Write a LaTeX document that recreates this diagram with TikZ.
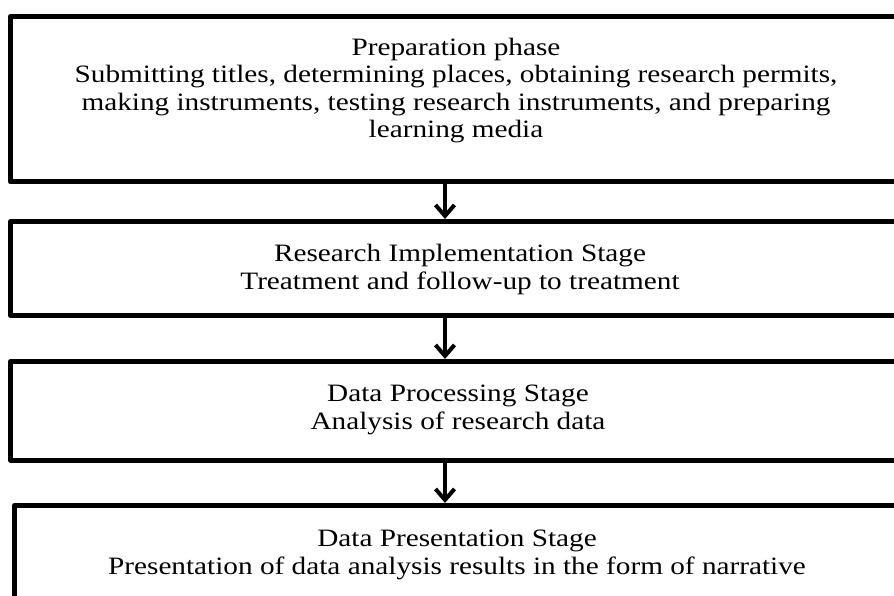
\documentclass[tikz,border=0pt]{standalone}
\usepackage{fontspec}
\setmainfont[FakeStretch=1.17]{Liberation Serif}
\usetikzlibrary{arrows.meta}
\tikzset{
  stagebox/.style={draw=black, line width=5pt, line join=round, inner sep=0pt},
  stagetext/.style={align=center, inner sep=0pt, anchor=base,
    font=\fontsize{25}{27.2}\selectfont},
  flowarrow/.style={line width=4pt, -{Straight Barb[length=11pt,width=19pt,line width=4pt]}}
}
\begin{document}
\begin{tikzpicture}[x=1pt,y=-1pt]
\clip (0,0) rectangle (894,596);
\fill[white] (0,0) rectangle (894,596);
\node[stagebox, minimum width=892.5pt, minimum height=165.5pt] (b1) at (456.75,99.25) {};
\node[stagebox, minimum width=892.5pt, minimum height=94pt] (b2) at (456.75,268.5) {};
\node[stagebox, minimum width=892.5pt, minimum height=98.5pt] (b3) at (456.75,410.75) {};
\node[stagebox, minimum width=886pt, minimum height=102.5pt] (b4) at (457.5,556.75) {};
\node[stagetext] (t1) at (456,137.3)
  {Preparation phase\\
   Submitting titles, determining places, obtaining research permits,\\
   making instruments, testing research instruments, and preparing\\
   learning media};
\node[stagetext] (t2) at (460,289)
  {Research Implementation Stage\\
   Treatment and follow-up to treatment};
\node[stagetext] (t3) at (458,429)
  {Data Processing Stage\\
   Analysis of research data};
\node[stagetext] (t4) at (457,574)
  {Data Presentation Stage\\
   Presentation of data analysis results in the form of narrative};
\draw[flowarrow] ([xshift=-11.75pt]b1.south) -- ([xshift=-11.75pt]b2.north);
\draw[flowarrow] ([xshift=-11.75pt]b2.south) -- ([xshift=-11.75pt]b3.north);
\draw[flowarrow] ([xshift=-11.75pt]b3.south) -- ([xshift=-12.5pt]b4.north);
\end{tikzpicture}
\end{document}
